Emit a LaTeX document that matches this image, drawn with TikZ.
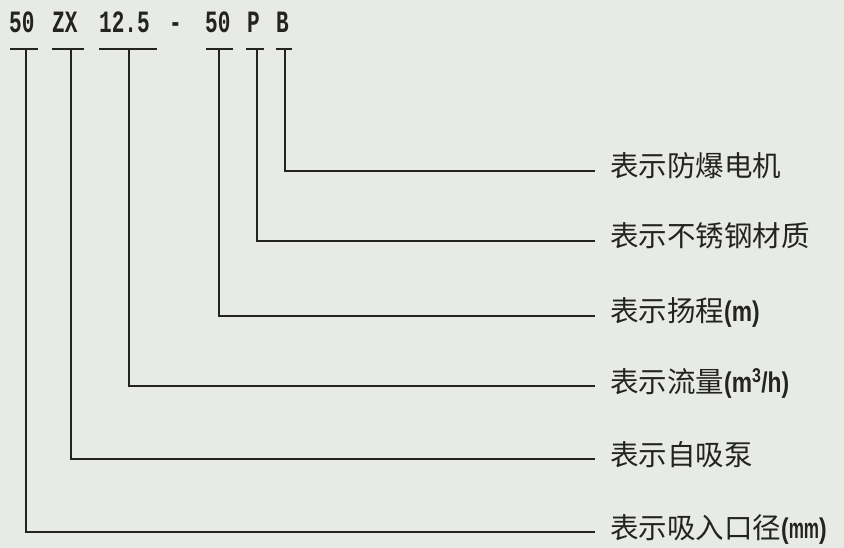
\documentclass[tikz,border=0pt]{standalone}
\usepackage{fontspec}
\newfontfamily\cjk{Noto Sans CJK SC}
\newfontfamily\codefont{Liberation Mono}
\newfontfamily\unitfont{Liberation Sans}
\definecolor{bg}{RGB}{232,235,229}
\definecolor{ink}{RGB}{35,35,35}
\begin{document}
\begin{tikzpicture}[x=1pt,y=-1pt,
  code/.style={anchor=base west,inner sep=0pt,text=ink,font=\codefont\bfseries\fontsize{31}{31}\selectfont},
  lab/.style={anchor=west,inner sep=0pt,text=ink,text height=1.2em,text depth=0em,font=\cjk\fontsize{28.5}{28.5}\selectfont},
  bar/.style={draw=ink,line width=1.6pt},
  conn/.style={draw=ink,line width=1.6pt,shorten >=15pt}]
\fill[bg] (0,0) rectangle (844,548);
\useasboundingbox (0,0) rectangle (844,548);
% code characters
\node[code] (c1) at (9,33) {\scalebox{0.68}[1]{50}};
\node[code] (c2) at (52,33) {\scalebox{0.68}[1]{ZX}};
\node[code] (c3) at (99,33) {\scalebox{0.68}[1]{12.5}};
\node[code] (c4) at (169,33) {\scalebox{0.68}[1]{-}};
\node[code] (c5) at (205,33) {\scalebox{0.68}[1]{50}};
\node[code] (c6) at (247,33) {\scalebox{0.68}[1]{P}};
\node[code] (c7) at (276,33) {\scalebox{0.68}[1]{B}};
% bars
\draw[bar] (10,49) -- (38,49);
\draw[bar] (52,49) -- (84,49);
\draw[bar] (99,49) -- (157,49);
\draw[bar] (206,49) -- (233,49);
\draw[bar] (246,49) -- (264,49);
\draw[bar] (276,49) -- (292,49);
\coordinate (b1) at (26,49);
\coordinate (b2) at (71,49);
\coordinate (b3) at (129,49);
\coordinate (b5) at (219,49);
\coordinate (b6) at (257,49);
\coordinate (b7) at (285,49);
% labels
\node[lab] (l7) at (610,171) {表示防爆电机};
\node[lab] (l6) at (610,241) {表示不锈钢材质};
\node[lab] (l5) at (610,316) {表示扬程{\unitfont\bfseries\scalebox{0.8}[1]{(m)}}};
\node[lab] (l3) at (610,386) {表示流量{\unitfont\bfseries\scalebox{0.8}[1]{(m\textsuperscript{3}/h)}}};
\node[lab] (l2) at (610,459) {表示自吸泵};
\node[lab] (l1) at (610,532) {表示吸入口径{\unitfont\bfseries\scalebox{0.8}[1]{(\scalebox{0.75}[1]{mm})}}};
% connectors
\draw[conn] (b7) |- (l7.west);
\draw[conn] (b6) |- (l6.west);
\draw[conn] (b5) |- (l5.west);
\draw[conn] (b3) |- (l3.west);
\draw[conn] (b2) |- (l2.west);
\draw[conn] (b1) |- (l1.west);
\end{tikzpicture}
\end{document}
